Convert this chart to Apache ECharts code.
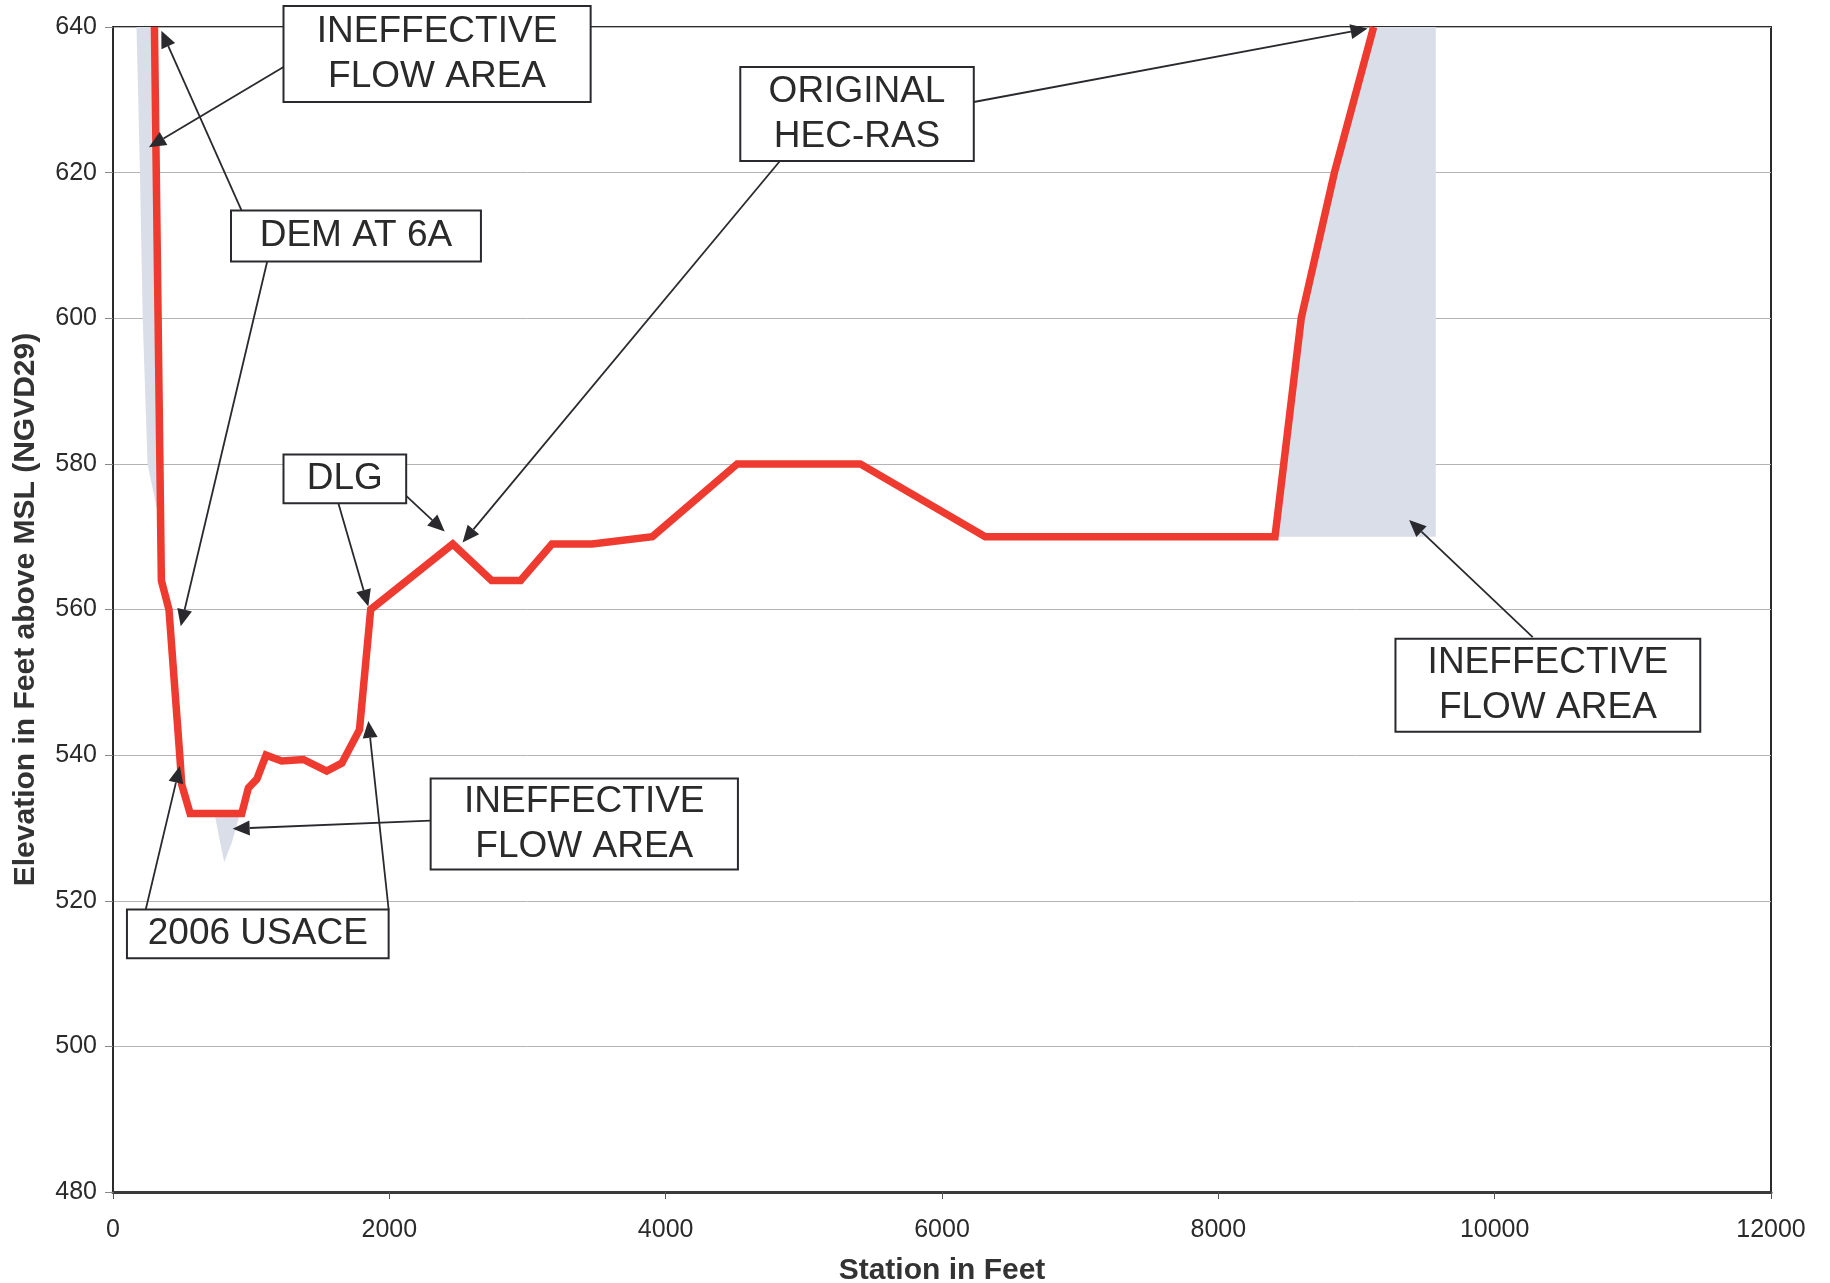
<!DOCTYPE html>
<html><head><meta charset="utf-8">
<script src="https://cdn.jsdelivr.net/npm/echarts@6/dist/echarts.min.js"></script>
<style>html,body{margin:0;padding:0;background:#fff}#c{width:1830px;height:1283px}</style>
</head><body><div id="c"></div>
<script>
// Ground profile (station ft, elevation ft)
const stations   = [300, 350, 405, 485, 497, 558, 932, 980, 1041, 1108, 1221, 1378, 1547, 1656, 1784, 1865, 2459, 2740, 2950, 3177, 3468, 3904, 4518, 5408, 6313, 8410, 8600, 8840, 9124];
const elevations = [640, 564, 560, 539.5, 536, 532, 532, 535.5, 536.7, 540, 539.2, 539.4, 537.8, 538.9, 543.5, 560, 569, 564, 564, 569, 569, 570, 580, 580, 570, 570, 600, 620, 640];

// Ineffective flow areas (polygon vertices in station / elevation)
const leftIneffX   = [170, 300, 345, 315, 250, 215, 195];
const leftIneffY   = [640, 640, 574, 574, 580, 600, 620];
const bottomIneffX = [735, 920, 860, 805, 765];
const bottomIneffY = [532, 532, 528, 525.3, 529];
const rightIneffX  = [8410, 8600, 8840, 9124, 9574, 9574];
const rightIneffY  = [570, 600, 620, 640, 640, 570];

// Axis ticks
const xTicks = [0, 2000, 4000, 6000, 8000, 10000, 12000];
const yTicks = [480, 500, 520, 540, 560, 580, 600, 620, 640];

// Annotation texts and their anchors (in station / elevation)
const noteTexts = [['INEFFECTIVE','FLOW AREA'], ['DEM AT 6A'], ['ORIGINAL','HEC-RAS'], ['DLG'], ['INEFFECTIVE','FLOW AREA'], ['2006 USACE'], ['INEFFECTIVE','FLOW AREA']];
const noteBoxes = [
  [1234, 642.9, 3457, 629.7],
  [854, 614.8, 2663, 607.8],
  [4540, 634.5, 6230, 621.6],
  [1234, 581.3, 2122, 574.6],
  [2299, 536.8, 4523, 524.3],
  [101, 518.8, 1995, 512.1],
  [9282, 556, 11488, 543.2]
];
const arrows = [
  [1234, 634.5, 260, 623.5],
  [930, 614.8, 350, 639.5],
  [1116, 607.8, 490, 557.7],
  [6230, 629.7, 9080, 639.8],
  [4827, 621.6, 2530, 569.2],
  [2122, 575.6, 2401, 570.7],
  [1631, 574.6, 1848, 560.4],
  [2299, 531, 866, 529.9],
  [237, 518.8, 484, 538.5],
  [1995, 518.8, 1848, 544.7],
  [10275, 556.2, 9381, 572.3]
];

const polys = [
  {x: leftIneffX, y: leftIneffY},
  {x: bottomIneffX, y: bottomIneffY},
  {x: rightIneffX, y: rightIneffY}
];

const FONT = "'Liberation Sans', Arial, sans-serif";
const INK = '#2a2a2e';

const chart = echarts.init(document.getElementById('c'), null, {renderer: 'canvas'});
chart.setOption({
  backgroundColor: '#ffffff',
  animation: false,
  grid: {left: 113, top: 27, right: 59, bottom: 91, show: true, borderColor: '#2b2b2b', borderWidth: 2, backgroundColor: 'transparent', containLabel: false, outerBoundsMode: 'none'},
  xAxis: {
    type: 'value', min: xTicks[0], max: xTicks[xTicks.length-1], interval: 2000,
    name: 'Station in Feet', nameLocation: 'middle', nameGap: 64,
    nameTextStyle: {fontFamily: FONT, fontSize: 30, fontWeight: 'bold', color: '#333'},
    axisLine: {show: true, lineStyle: {color: '#3a3a3a', width: 3}},
    axisTick: {show: true, inside: false, length: 7, lineStyle: {color: '#555', width: 1}},
    axisLabel: {fontFamily: FONT, fontSize: 25, color: '#2a2a2a', margin: 26, formatter: v => String(v)},
    splitLine: {show: false}
  },
  yAxis: {
    type: 'value', min: yTicks[0], max: yTicks[yTicks.length-1], interval: 20,
    name: 'Elevation in Feet above MSL (NGVD29)', nameLocation: 'middle', nameGap: 72,
    nameTextStyle: {fontFamily: FONT, fontSize: 30, fontWeight: 'bold', color: '#333'},
    axisLine: {show: true, lineStyle: {color: '#2b2b2b', width: 2}},
    axisTick: {show: true, inside: false, length: 8, lineStyle: {color: '#888', width: 1}},
    axisLabel: {fontFamily: FONT, fontSize: 25, color: '#2a2a2a', margin: 16, formatter: v => String(v)},
    splitLine: {show: true, lineStyle: {color: '#b4b4b4', width: 1}}
  },
  series: [
    {
      type: 'custom', name: 'ineffective', z: 1, silent: true,
      data: polys.map((p, i) => [i, 0]),
      renderItem: function (params, api) {
        const p = polys[params.dataIndex];
        const pts = p.x.map((x, k) => api.coord([x, p.y[k]]));
        return {type: 'polygon', shape: {points: pts}, style: {fill: '#dadee9'}};
      }
    },
    {
      type: 'line', name: 'profile', z: 3, silent: true,
      data: stations.map((s, i) => [s, elevations[i]]),
      showSymbol: false, symbol: 'none',
      lineStyle: {color: '#ee3a2f', width: 7.5, join: 'miter'}
    },
    {
      type: 'custom', name: 'arrows', z: 5, silent: true, clip: false,
      data: arrows.map((a, i) => [a[0], a[1], a[2], a[3]]),
      renderItem: function (params, api) {
        const a = arrows[params.dataIndex];
        const p1 = api.coord([a[0], a[1]]);
        const p2 = api.coord([a[2], a[3]]);
        const dx = p2[0] - p1[0], dy = p2[1] - p1[1];
        const len = Math.sqrt(dx*dx + dy*dy);
        const ux = dx/len, uy = dy/len;
        const hl = 17, hw = 7.5;
        const bx = p2[0] - ux*hl, by = p2[1] - uy*hl;
        return {type: 'group', children: [
          {type: 'line', shape: {x1: p1[0], y1: p1[1], x2: bx, y2: by}, style: {stroke: INK, lineWidth: 1.8}},
          {type: 'polygon', shape: {points: [[p2[0], p2[1]], [bx - uy*hw, by + ux*hw], [bx + uy*hw, by - ux*hw]]}, style: {fill: INK}}
        ]};
      }
    },
    {
      type: 'custom', name: 'notes', z: 6, silent: true, clip: false,
      data: noteBoxes.map(b => [b[0], b[1], b[2], b[3]]),
      renderItem: function (params, api) {
        const b = noteBoxes[params.dataIndex];
        const t = noteTexts[params.dataIndex];
        const p1 = api.coord([b[0], b[1]]);
        const p2 = api.coord([b[2], b[3]]);
        const w = p2[0] - p1[0], h = p2[1] - p1[1];
        return {type: 'group', children: [
          {type: 'rect', shape: {x: p1[0], y: p1[1], width: w, height: h}, style: {fill: '#ffffff', stroke: INK, lineWidth: 2}},
          {type: 'text', style: {x: p1[0] + w/2, y: p1[1] + h/2, text: t.join('\n'), fill: '#2a2a2a',
            font: '37px ' + FONT, align: 'center', verticalAlign: 'middle', lineHeight: 45}}
        ]};
      }
    }
  ]
});
</script>
</body></html>
